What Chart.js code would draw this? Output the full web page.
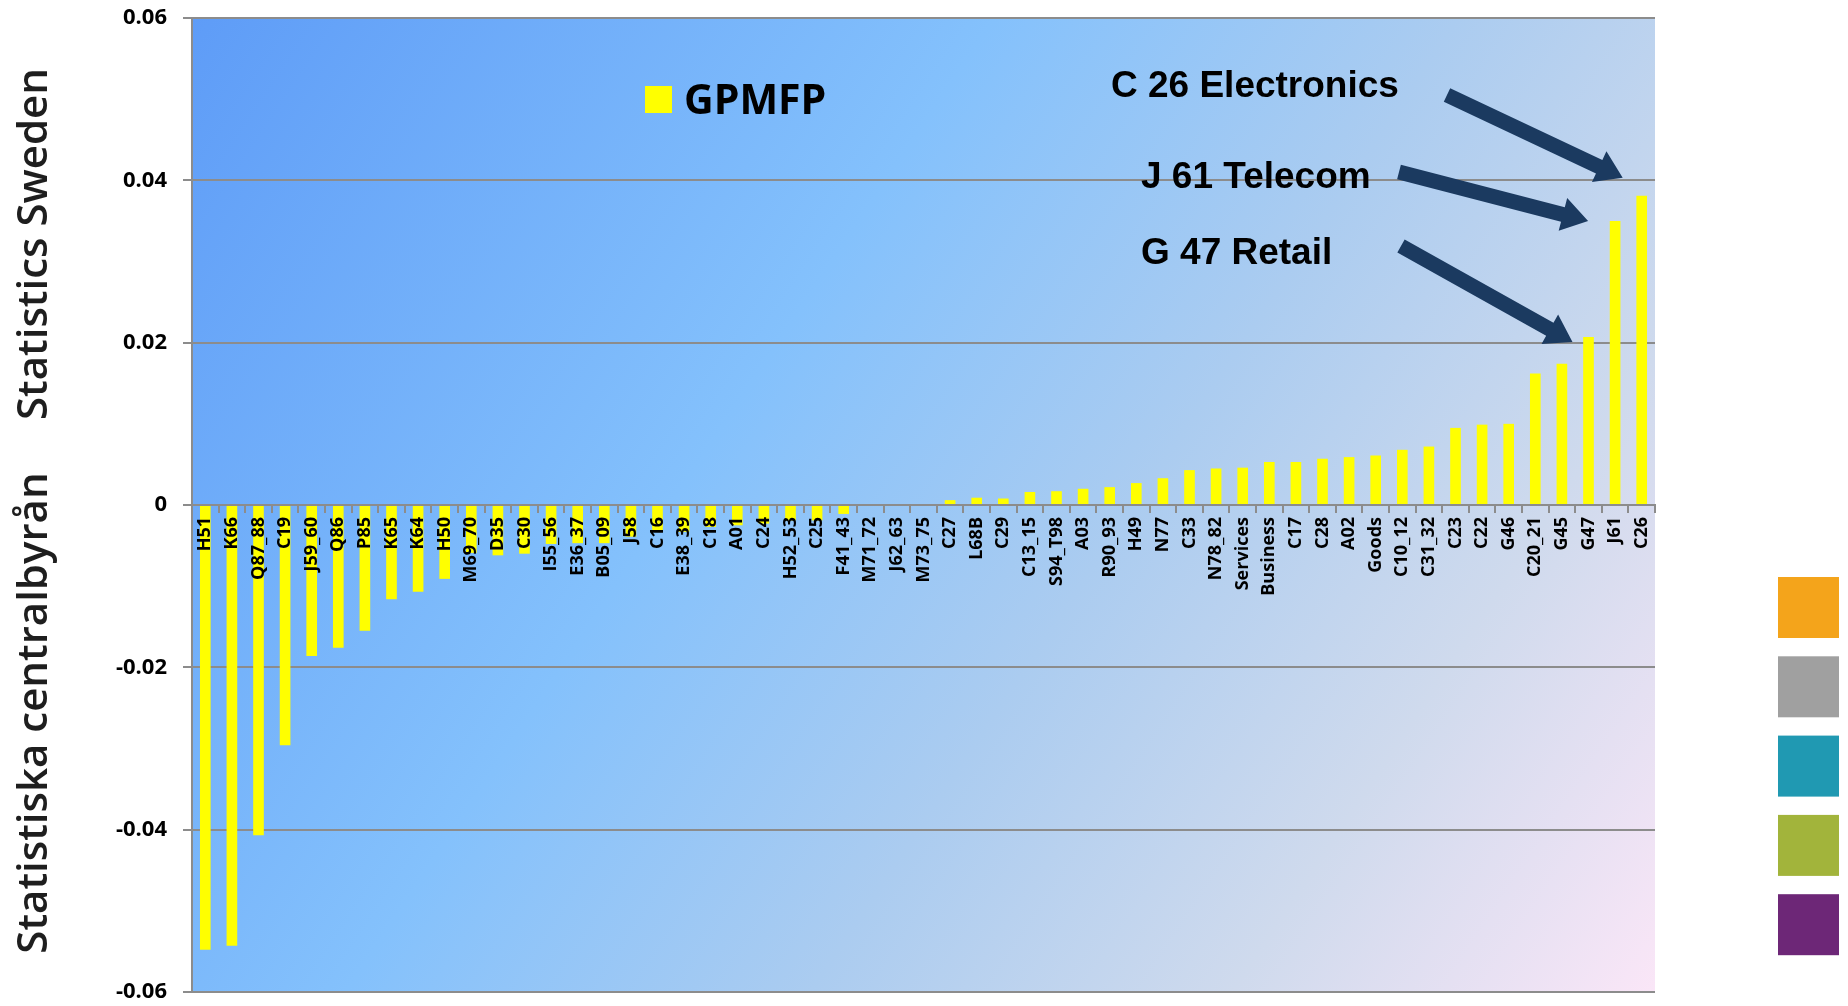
<!DOCTYPE html>
<html>
<head>
<meta charset="utf-8">
<title>GPMFP by industry</title>
<script src="https://cdn.jsdelivr.net/npm/chart.js@4/dist/chart.umd.min.js"></script>
<style>
  html, body { margin: 0; padding: 0; background: #fff; }
  #wrap { width: 1848px; height: 1006px; }
</style>
</head>
<body>
<div id="wrap"><canvas id="chart" width="1848" height="1006"></canvas></div>
<script>
// industries, sorted by GPMFP contribution
const industries = [
  "H51", "K66", "Q87_88", "C19", "J59_60", "Q86", "P85", "K65", "K64", "H50",
  "M69_70", "D35", "C30", "I55_56", "E36_37", "B05_09", "J58", "C16", "E38_39", "C18",
  "A01", "C24", "H52_53", "C25", "F41_43", "M71_72", "J62_63", "M73_75", "C27", "L68B",
  "C29", "C13_15", "S94_T98", "A03", "R90_93", "H49", "N77", "C33", "N78_82", "Services",
  "Business", "C17", "C28", "A02", "Goods", "C10_12", "C31_32", "C23", "C22", "G46",
  "C20_21", "G45", "G47", "J61", "C26"
];

const gpmfp = [
  -0.0548, -0.0543, -0.0407, -0.0296, -0.0186, -0.0176, -0.0155, -0.0116, -0.0107, -0.0091,
  -0.0059, -0.0062, -0.0060, -0.0048, -0.0047, -0.0047, -0.0039, -0.0033, -0.0033, -0.0027,
  -0.0025, -0.0023, -0.0019, -0.0019, -0.0011, 0, 0, 0, 0.0006, 0.0009,
  0.0008, 0.0016, 0.0017, 0.0020, 0.0022, 0.0027, 0.0033, 0.0043, 0.0045, 0.0046,
  0.0053, 0.0053, 0.0057, 0.0059, 0.0061, 0.0068, 0.0072, 0.0095, 0.0099, 0.0100,
  0.0162, 0.0174, 0.0207, 0.0350, 0.0381
];

const yTicks = [-0.06, -0.04, -0.02, 0, 0.02, 0.04, 0.06];
const yTickLabels = ["-0.06", "-0.04", "-0.02", "0", "0.02", "0.04", "0.06"];

// callouts pointing at the three big contributors
const calloutText = ["C 26 Electronics", "J 61 Telecom", "G 47 Retail"];
const calloutTarget = ["C26", "J61", "G47"];

// side decoration
const sideTexts = ["Statistics Sweden", "Statistiska centralbyrån"];
const brandColors = ["#f4a41b", "#a0a0a0", "#2099b2", "#a2b43b", "#6d2777"];

const gridGray = "#8c8c8c";
const arrowColor = "#1b3a60";

// arrow as one filled polygon: shaft + head
function drawArrow(ctx, x1, y1, x2, y2) {
  const ang = Math.atan2(y2 - y1, x2 - x1);
  const len = Math.hypot(x2 - x1, y2 - y1);
  const sw = 7.5, hw = 17, hl = 26;
  ctx.save();
  ctx.translate(x1, y1);
  ctx.rotate(ang);
  ctx.beginPath();
  ctx.moveTo(0, -sw);
  ctx.lineTo(len - hl, -sw);
  ctx.lineTo(len - hl, -hw);
  ctx.lineTo(len, 0);
  ctx.lineTo(len - hl, hw);
  ctx.lineTo(len - hl, sw);
  ctx.lineTo(0, sw);
  ctx.closePath();
  ctx.fillStyle = arrowColor;
  ctx.fill();
  ctx.restore();
}

const decor = {
  id: "decor",
  beforeDraw(chart) {
    const { ctx, chartArea: a } = chart;
    ctx.save();
    ctx.fillStyle = "#ffffff";
    ctx.fillRect(0, 0, chart.width, chart.height);
    const g = ctx.createLinearGradient(a.left, a.top, a.right, a.bottom);
    g.addColorStop(0, "#5e9cf7");
    g.addColorStop(0.38, "#84c1fc");
    g.addColorStop(0.6, "#abccf0");
    g.addColorStop(0.8, "#cfdaed");
    g.addColorStop(1, "#fae6f7");
    ctx.fillStyle = g;
    ctx.fillRect(a.left, a.top, a.right - a.left, a.bottom - a.top);
    ctx.restore();
  },
  afterDraw(chart) {
    const { ctx } = chart;
    const xs = chart.scales.x, ys = chart.scales.y;
    ctx.save();

    // legend
    ctx.fillStyle = "#ffff00";
    ctx.fillRect(645, 86, 27, 27);
    ctx.fillStyle = "#000";
    ctx.font = "bold 41px 'Open Sans'";
    ctx.textBaseline = "alphabetic";
    ctx.textAlign = "left";
    ctx.fillText(chart.data.datasets[0].label, 684, 114);

    // callouts
    const textPos = [[1111, 97], [1141, 188], [1141, 264]];
    const tails = [[1447, 95], [1399, 172], [1401, 246]];
    const tipOff = [[-19, -18], [-27, 0], [-16, 5]];
    ctx.font = "bold 37px 'Liberation Sans', Arial";
    calloutText.forEach((t, i) => {
      ctx.fillStyle = "#000";
      ctx.fillText(t, textPos[i][0], textPos[i][1]);
      const k = industries.indexOf(calloutTarget[i]);
      const tx = xs.getPixelForValue(k) + tipOff[i][0];
      const ty = ys.getPixelForValue(gpmfp[k]) + tipOff[i][1];
      drawArrow(ctx, tails[i][0], tails[i][1], tx, ty);
    });

    // rotated agency names on the left
    ctx.fillStyle = "#1e1e1e";
    ctx.font = "600 42px 'Open Sans'";
    ctx.textAlign = "center";
    [[sideTexts[0], 244], [sideTexts[1], 713]].forEach(([t, cy]) => {
      ctx.save();
      ctx.translate(47, cy);
      ctx.rotate(-Math.PI / 2);
      ctx.fillText(t, 0, 0);
      ctx.restore();
    });

    // colour blocks on the right
    brandColors.forEach((c, i) => {
      ctx.fillStyle = c;
      ctx.fillRect(1778, 577 + i * 79.3, 61, 61);
    });
    ctx.restore();
  }
};

new Chart(document.getElementById("chart"), {
  type: "bar",
  data: {
    labels: industries,
    datasets: [{
      label: "GPMFP",
      data: gpmfp,
      backgroundColor: "#ffff00",
      barPercentage: 0.4,
      categoryPercentage: 1.0
    }]
  },
  options: {
    responsive: false,
    animation: false,
    layout: { padding: { left: 0, right: 193, top: 18, bottom: 14 } },
    plugins: {
      legend: { display: false },
      tooltip: { enabled: false }
    },
    scales: {
      x: {
        position: { y: 0 },
        grid: {
          offset: true,
          drawOnChartArea: false,
          drawTicks: true,
          tickLength: 7,
          color: gridGray,
          lineWidth: 2,
          z: 1
        },
        border: { color: gridGray, width: 2, z: 1 },
        ticks: {
          z: 2,
          autoSkip: false,
          maxRotation: 90,
          minRotation: 90,
          padding: 5,
          color: "#000",
          font: { family: "'Open Sans'", size: 18, weight: "bold" }
        }
      },
      y: {
        min: -0.06,
        max: 0.06,
        afterFit(scale) {
          scale.width = 192;
          scale.paddingTop = 0;
          scale.paddingBottom = 0;
        },
        afterBuildTicks(scale) { scale.ticks = yTicks.map(v => ({ value: v })); },
        grid: { color: gridGray, lineWidth: 2, tickLength: 9 },
        border: { color: gridGray, width: 2 },
        ticks: {
          padding: 16,
          color: "#000",
          font: { family: "'Open Sans'", size: 22, weight: "bold" },
          callback: (v) => yTickLabels[yTicks.indexOf(v)] ?? ""
        }
      }
    }
  },
  plugins: [decor]
});
</script>
</body>
</html>
